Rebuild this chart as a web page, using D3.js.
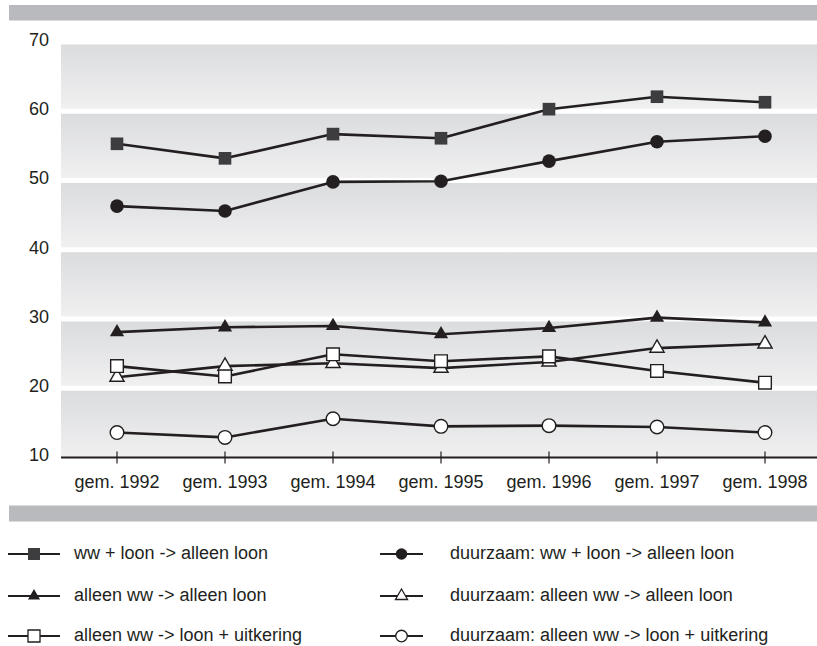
<!DOCTYPE html>
<html>
<head>
<meta charset="utf-8">
<script src="https://cdn.jsdelivr.net/npm/d3@7/dist/d3.min.js"></script>
<style>
  html, body { margin: 0; padding: 0; background: #fff; }
  svg { display: block; font-family: "Liberation Sans", Arial, sans-serif; }
</style>
</head>
<body>
<svg id="chart" width="817" height="646"></svg>
<script>
// Periods on the x axis
const years = ["gem. 1992", "gem. 1993", "gem. 1994", "gem. 1995", "gem. 1996", "gem. 1997", "gem. 1998"];

// Series values (percentages)
const wwLoonNaarLoon        = [55.3, 53.2, 56.7, 56.1, 60.3, 62.1, 61.3];
const duurzaamWwLoon        = [46.3, 45.6, 49.8, 49.9, 52.8, 55.6, 56.4];
const alleenWwNaarLoon      = [28.1, 28.8, 29.0, 27.8, 28.7, 30.2, 29.5];
const duurzaamAlleenWw      = [21.6, 23.2, 23.6, 22.9, 23.8, 25.8, 26.4];
const alleenWwLoonUitk      = [23.2, 21.7, 24.9, 23.9, 24.6, 22.5, 20.8];
const duurzaamAlleenWwUitk  = [13.6, 12.9, 15.6, 14.5, 14.6, 14.4, 13.6];

const yTicks = [10, 20, 30, 40, 50, 60, 70];

const series = [
  { name: "ww + loon -> alleen loon", values: wwLoonNaarLoon, shape: "square", fill: "#3d3d3f", col: 0, row: 0 },
  { name: "duurzaam: ww + loon -> alleen loon", values: duurzaamWwLoon, shape: "circle", fill: "#231f20", col: 1, row: 0 },
  { name: "alleen ww -> alleen loon", values: alleenWwNaarLoon, shape: "triangle", fill: "#231f20", col: 0, row: 1 },
  { name: "duurzaam: alleen ww -> alleen loon", values: duurzaamAlleenWw, shape: "triangle", fill: "#ffffff", col: 1, row: 1 },
  { name: "alleen ww -> loon + uitkering", values: alleenWwLoonUitk, shape: "square", fill: "#ffffff", col: 0, row: 2 },
  { name: "duurzaam: alleen ww -> loon + uitkering", values: duurzaamAlleenWwUitk, shape: "circle", fill: "#ffffff", col: 1, row: 2 }
];

const ink = "#231f20";
const fontSize = 18;
const svg = d3.select("#chart");

const plotLeft = 61, plotRight = 817;
const x = d3.scalePoint().domain(years).range([117, 765]);
const y = d3.scaleLinear().domain([10, 70]).range([457.5, 42]);

// Gradient for the horizontal bands
const defs = svg.append("defs");
const grad = defs.append("linearGradient").attr("id", "band").attr("x1", 0).attr("y1", 0).attr("x2", 0).attr("y2", 1);
grad.append("stop").attr("offset", "0%").attr("stop-color", "#dbdcde");
grad.append("stop").attr("offset", "100%").attr("stop-color", "#f0f0f1");

// Grey header and footer strips
svg.append("rect").attr("x", 9).attr("y", 5).attr("width", 808).attr("height", 15.5).attr("fill", "#b9babd");
svg.append("rect").attr("x", 9).attr("y", 505.5).attr("width", 808).attr("height", 16).attr("fill", "#b9babd");

// Bands between gridlines, separated by white gaps
const bands = d3.pairs(yTicks);
svg.append("g").selectAll("rect").data(bands).join("rect")
  .attr("x", plotLeft)
  .attr("width", plotRight - plotLeft)
  .attr("y", d => y(d[1]) + 2.5)
  .attr("height", d => (d[0] === 10 ? y(d[0]) : y(d[0]) - 2.5) - (y(d[1]) + 2.5))
  .attr("fill", "url(#band)");

// Y tick labels
svg.append("g").selectAll("text").data(yTicks).join("text")
  .attr("x", 49)
  .attr("y", d => y(d) - 2.5)
  .attr("dy", "0.35em")
  .attr("text-anchor", "end")
  .attr("font-size", fontSize)
  .attr("fill", ink)
  .text(d => d);

// X axis
const xAxis = svg.append("g").attr("transform", `translate(0,${y(10)})`);
xAxis.append("line").attr("x1", plotLeft).attr("x2", plotRight).attr("stroke", ink).attr("stroke-width", 2.2);
xAxis.selectAll(".tick").data(years).join("line")
  .attr("class", "tick")
  .attr("x1", d => x(d)).attr("x2", d => x(d))
  .attr("y1", -6).attr("y2", 6)
  .attr("stroke", ink).attr("stroke-width", 1.2);
xAxis.selectAll("text").data(years).join("text")
  .attr("x", d => x(d))
  .attr("y", 24)
  .attr("dy", "0.35em")
  .attr("text-anchor", "middle")
  .attr("font-size", fontSize)
  .attr("fill", ink)
  .text(d => d);

// Marker drawing
const symbolFor = (shape, scale) => {
  const s = scale || 1;
  if (shape === "square") return d3.symbol().type(d3.symbolSquare).size(160 * s * s)();
  if (shape === "circle") return d3.symbol().type(d3.symbolCircle).size(145 * s * s)();
  return d3.symbol().type(d3.symbolTriangle).size(88 * s * s)();
};

const line = d3.line().x((d, i) => x(years[i])).y(d => y(d));

const g = svg.append("g");
series.forEach(s => {
  g.append("path")
    .attr("d", line(s.values))
    .attr("fill", "none")
    .attr("stroke", ink)
    .attr("stroke-width", 2.6)
    .attr("stroke-linejoin", "round");
});
series.forEach(s => {
  g.append("g").selectAll("path").data(s.values).join("path")
    .attr("transform", (d, i) => `translate(${x(years[i])},${y(d)})`)
    .attr("d", symbolFor(s.shape))
    .attr("fill", s.fill)
    .attr("stroke", s.fill === "#ffffff" ? ink : "none")
    .attr("stroke-width", 1.4);
});

// Legend
const legendCols = [{ x0: 8, x1: 60, tx: 74 }, { x0: 380, x1: 423, tx: 450 }];
const legendRows = [554, 596, 636];
const legend = svg.append("g");
series.forEach(s => {
  const c = legendCols[s.col];
  const ry = legendRows[s.row];
  const item = legend.append("g");
  item.append("line").attr("x1", c.x0).attr("x2", c.x1).attr("y1", ry).attr("y2", ry)
    .attr("stroke", ink).attr("stroke-width", 2.2);
  item.append("path")
    .attr("transform", `translate(${(c.x0 + c.x1) / 2},${ry})`)
    .attr("d", symbolFor(s.shape, s.shape === "square" ? 0.95 : 0.85))
    .attr("fill", s.fill)
    .attr("stroke", s.fill === "#ffffff" ? ink : "none")
    .attr("stroke-width", 1.3);
  item.append("text")
    .attr("x", c.tx).attr("y", ry - 1)
    .attr("dy", "0.35em")
    .attr("font-size", fontSize)
    .attr("fill", ink)
    .text(s.name);
});
</script>
</body>
</html>
